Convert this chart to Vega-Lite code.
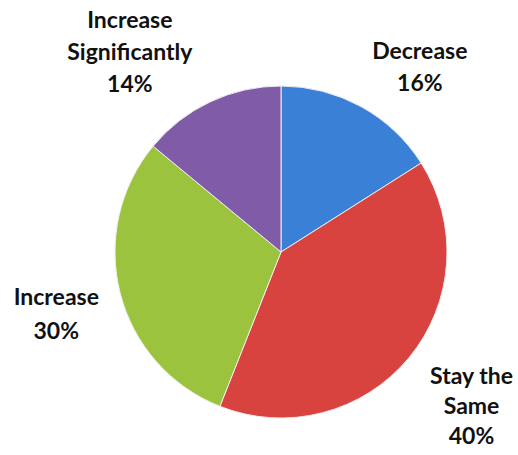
{
  "$schema": "https://vega.github.io/schema/vega-lite/v6.json",
  "width": 332,
  "height": 332,
  "autosize": {"type": "none"},
  "padding": {"left": 115, "top": 86, "right": 71, "bottom": 37},
  "background": "white",
  "data": {
    "values": [
      {"answer": "Decrease", "percent": 16, "rank": 1, "label": "Decrease\n16%"},
      {"answer": "Stay the Same", "percent": 40, "rank": 2, "label": "Stay the\nSame\n40%"},
      {"answer": "Increase", "percent": 30, "rank": 3, "label": "Increase\n30%"},
      {"answer": "Increase Significantly", "percent": 14, "rank": 4, "label": "Increase\nSignificantly\n14%"}
    ]
  },
  "encoding": {
    "theta": {"field": "percent", "type": "quantitative", "stack": true},
    "order": {"field": "rank", "type": "quantitative"}
  },
  "layer": [
    {
      "mark": {"type": "arc", "outerRadius": 166, "stroke": "#eeeeee", "strokeWidth": 1},
      "encoding": {
        "color": {
          "field": "answer",
          "type": "nominal",
          "scale": {
            "domain": ["Decrease", "Stay the Same", "Increase", "Increase Significantly"],
            "range": ["#3b80d7", "#d8423f", "#9bc33d", "#7f5ba8"]
          },
          "legend": null
        }
      }
    },
    {
      "mark": {"type": "text", "radius": 230, "dx": 28, "dy": 2, "font": "Lato", "fontWeight": "bold", "fontSize": 23, "lineHeight": 32, "lineBreak": "\n", "align": "center", "baseline": "middle", "color": "#111111"},
      "encoding": {"text": {"condition": {"test": "datum.answer === 'Decrease'", "field": "label", "type": "nominal"}, "value": ""}}
    },
    {
      "mark": {"type": "text", "radius": 246, "dx": 1, "dy": -32, "font": "Lato", "fontWeight": "bold", "fontSize": 23, "lineHeight": 30, "lineBreak": "\n", "align": "center", "baseline": "middle", "color": "#111111"},
      "encoding": {"text": {"condition": {"test": "datum.answer === 'Stay the Same'", "field": "label", "type": "nominal"}, "value": ""}}
    },
    {
      "mark": {"type": "text", "radius": 232, "dx": 0, "dy": -12, "font": "Lato", "fontWeight": "bold", "fontSize": 23, "lineHeight": 34, "lineBreak": "\n", "align": "center", "baseline": "middle", "color": "#111111"},
      "encoding": {"text": {"condition": {"test": "datum.answer === 'Increase'", "field": "label", "type": "nominal"}, "value": ""}}
    },
    {
      "mark": {"type": "text", "radius": 247, "dx": -46, "dy": -8, "font": "Lato", "fontWeight": "bold", "fontSize": 23, "lineHeight": 32, "lineBreak": "\n", "align": "center", "baseline": "middle", "color": "#111111"},
      "encoding": {"text": {"condition": {"test": "datum.answer === 'Increase Significantly'", "field": "label", "type": "nominal"}, "value": ""}}
    }
  ],
  "config": {"view": {"stroke": null}}
}
